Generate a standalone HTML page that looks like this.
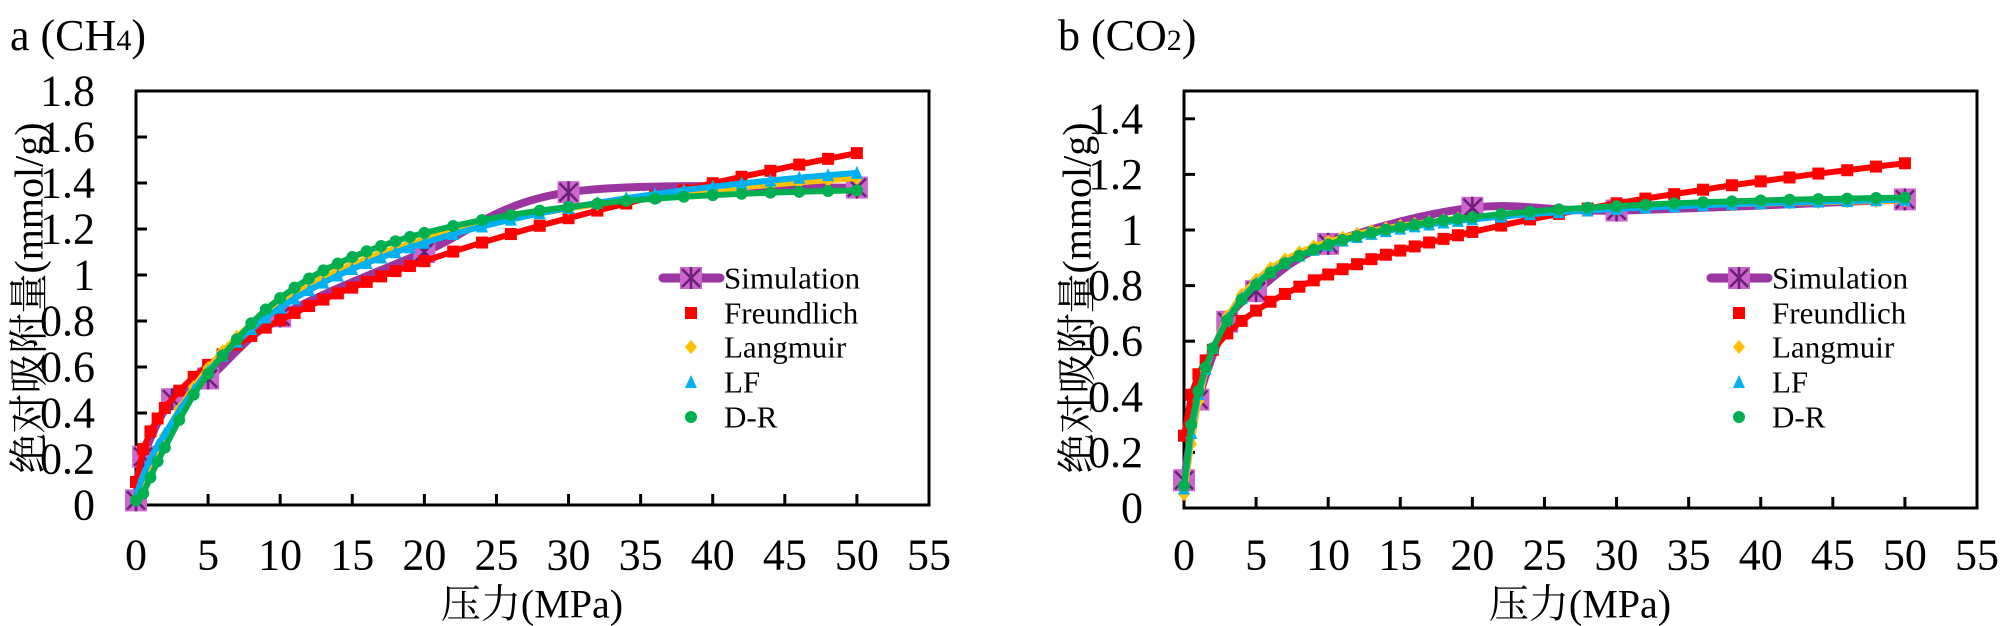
<!DOCTYPE html>
<html><head><meta charset="utf-8"><style>
html,body{margin:0;padding:0;background:#fff;}
svg{display:block;font-family:"Liberation Serif","Times New Roman","Noto Serif CJK SC",serif;}
svg text{font-family:"Liberation Serif","Times New Roman","Noto Serif CJK SC",serif;fill:#000;}
</style></head><body>
<svg id="chart" width="2000" height="626" viewBox="0 0 2000 626" xmlns="http://www.w3.org/2000/svg" font-family="Liberation Serif, Noto Serif CJK SC, serif"></svg>
<script>
const xTicks = [0,5,10,15,20,25,30,35,40,45,50,55];
const yTicksA = [0,0.2,0.4,0.6,0.8,1,1.2,1.4,1.6,1.8];
const yTickLabelsA = ["0","0.2","0.4","0.6","0.8","1","1.2","1.4","1.6","1.8"];
const yTicksB = [0,0.2,0.4,0.6,0.8,1,1.2,1.4];
const yTickLabelsB = ["0","0.2","0.4","0.6","0.8","1","1.2","1.4"];
const seriesNames = ["Simulation","Freundlich","Langmuir","LF","D-R"];
const fitPressure = [0,0.5,1,1.5,2,3,4,5,6,7,8,9,10,11,12,13,14,15,16,17,18,19,20,22,24,26,28,30,32,34,36,38,40,42,44,46,48,50];
// CH4
const simPA = [0,0.5,2.5,5,10,20,30,50];
const simQA = [0.02,0.21,0.46,0.55,0.82,1.10,1.36,1.38];
const freuA = [0.10,0.243,0.32,0.376,0.422,0.497,0.557,0.609,0.655,0.697,0.735,0.771,0.804,0.835,0.865,0.893,0.920,0.945,0.970,0.994,1.017,1.039,1.060,1.102,1.141,1.178,1.214,1.247,1.280,1.311,1.342,1.371,1.399,1.427,1.453,1.480,1.505,1.530];
const langA = [0.03,0.088,0.166,0.238,0.303,0.417,0.513,0.596,0.668,0.731,0.786,0.836,0.880,0.920,0.956,0.989,1.019,1.046,1.071,1.095,1.116,1.136,1.155,1.189,1.218,1.245,1.268,1.289,1.308,1.326,1.341,1.356,1.369,1.381,1.392,1.403,1.412,1.421];
const lfA = [0.04,0.13,0.20,0.26,0.31,0.41,0.50,0.58,0.65,0.71,0.765,0.815,0.858,0.898,0.934,0.967,0.998,1.026,1.052,1.076,1.099,1.120,1.140,1.178,1.211,1.241,1.268,1.292,1.314,1.334,1.352,1.369,1.384,1.398,1.411,1.423,1.434,1.444];
const drA = [0.02,0.05,0.12,0.19,0.25,0.37,0.48,0.57,0.65,0.72,0.79,0.85,0.90,0.945,0.985,1.02,1.05,1.078,1.103,1.126,1.147,1.166,1.183,1.213,1.239,1.261,1.280,1.296,1.310,1.322,1.332,1.340,1.347,1.353,1.358,1.362,1.365,1.368];
// CO2
const simPB = [0,1,3,5,10,20,30,50];
const simQB = [0.10,0.39,0.67,0.78,0.95,1.08,1.07,1.11];
const freuB = [0.26,0.407,0.481,0.531,0.569,0.628,0.673,0.710,0.742,0.770,0.796,0.819,0.840,0.859,0.877,0.895,0.911,0.926,0.941,0.955,0.968,0.981,0.993,1.016,1.038,1.058,1.077,1.096,1.113,1.129,1.145,1.161,1.175,1.189,1.203,1.215,1.228,1.240];
const langB = [0.05,0.230,0.383,0.493,0.575,0.690,0.767,0.821,0.863,0.894,0.920,0.941,0.958,0.973,0.986,0.997,1.006,1.015,1.022,1.029,1.035,1.041,1.045,1.054,1.062,1.068,1.073,1.078,1.082,1.086,1.090,1.093,1.095,1.098,1.100,1.102,1.104,1.106];
const lfB = [0.07,0.27,0.41,0.50,0.575,0.68,0.755,0.808,0.850,0.882,0.908,0.929,0.946,0.962,0.975,0.986,0.996,1.005,1.013,1.020,1.027,1.033,1.038,1.048,1.057,1.064,1.070,1.076,1.081,1.085,1.089,1.093,1.096,1.099,1.102,1.104,1.107,1.109];
const drB = [0.08,0.30,0.42,0.505,0.575,0.675,0.75,0.803,0.846,0.880,0.907,0.929,0.948,0.964,0.978,0.990,1.001,1.010,1.019,1.027,1.034,1.040,1.046,1.057,1.066,1.074,1.080,1.086,1.091,1.096,1.100,1.103,1.106,1.109,1.111,1.113,1.115,1.116];

const NS = "http://www.w3.org/2000/svg";
const svg = document.getElementById('chart');
const FONT = "Liberation Serif, Noto Serif CJK SC, serif";
function mk(tag, attrs, parent){const e=document.createElementNS(NS,tag);for(const k in attrs)e.setAttribute(k,attrs[k]);if(tag==='text')e.setAttribute('font-family',FONT);(parent||svg).appendChild(e);return e;}

function drawPanel(cfg){
  const g = mk('g',{});
  
  
  const L=cfg.left,R=cfg.right,T=91,B=cfg.bottom;
  const xs = p => L + p/55*(R-L);
  const ys = q => B - q/cfg.ymax*(B-T);
  const fr = mk('rect',{x:L,y:T,width:R-L,height:B-T,fill:'none',stroke:'#000','stroke-width':3},g);
  
  
  xTicks.forEach(t=>{
    if(t>0 && t<55){const tk=mk('line',{x1:xs(t),x2:xs(t),y1:B,y2:B-11,stroke:'#000','stroke-width':3},g);
    
    }
    const tl=mk('text',{x:xs(t),y:555,'font-size':44,'text-anchor':'middle','dominant-baseline':'central'},g);
    tl.textContent=String(t);
    
    
  });
  cfg.yticks.forEach((t,i)=>{
    if(t>0){const tk=mk('line',{x1:L,x2:L+11,y1:ys(t),y2:ys(t),stroke:'#000','stroke-width':3},g);
    
    }
    const tl=mk('text',{x:L-41,y:ys(t),'font-size':44,'text-anchor':'end','dominant-baseline':'central'},g);
    tl.textContent=cfg.ylabels[i];
    
    
  });
  const xt=mk('text',{x:L+396,y:604,'font-size':40,'text-anchor':'middle','dominant-baseline':'central'},g);
  xt.textContent='压力(MPa)';
  
  
  const yx=L-107;
  const yt=mk('text',{x:yx,y:298,'font-size':40,'text-anchor':'middle','dominant-baseline':'central',transform:`rotate(-90 ${yx} 298)`},g);
  yt.textContent='绝对吸附量(mmol/g)';
  
  
  const pt=mk('text',{x:L-126,y:50,'font-size':44},g);
  pt.textContent=cfg.title[0];
  const sub=mk('tspan',{'font-size':30},pt); sub.textContent=cfg.title[1];
  const rest=mk('tspan',{},pt); rest.textContent=')';
  
  

  const pts = cfg.simP.map((p,i)=>[xs(p),ys(cfg.simQ[i])]);
  let d=`M${pts[0][0]},${pts[0][1]}`;
  for(let i=0;i<pts.length-1;i++){
    const p0=pts[Math.max(0,i-1)],p1=pts[i],p2=pts[i+1],p3=pts[Math.min(pts.length-1,i+2)];
    const c1=[p1[0]+(p2[0]-p0[0])/6,p1[1]+(p2[1]-p0[1])/6];
    const c2=[p2[0]-(p3[0]-p1[0])/6,p2[1]-(p3[1]-p1[1])/6];
    d+=` C${c1[0]},${c1[1]} ${c2[0]},${c2[1]} ${p2[0]},${p2[1]}`;
  }
  const sl=mk('path',{d:d,fill:'none',stroke:'#9b36a0','stroke-width':8,'stroke-linecap':'round'},g);
  
  
  pts.forEach(p=>{ simMarker(g,p[0],p[1],11); });

  const fits=[[cfg.freu,'#ff0000','square','freundlich'],[cfg.lang,'#ffc000','diamond','langmuir'],[cfg.lf,'#00b0f0','triangle','lf'],[cfg.dr,'#00b050','circle','d-r']];
  fits.forEach(([vals,col,shape,nm])=>{
    const sg=mk('g',{},g);
    
    
    const pl=fitPressure.map((p,i)=>xs(p)+','+ys(vals[i])).join(' ');
    mk('polyline',{points:pl,fill:'none',stroke:col,'stroke-width':6},sg);
    fitPressure.forEach((p,i)=>{ marker(sg,shape,col,xs(p),ys(vals[i]),6); });
  });

  const lg=mk('g',{},g);
  
  
  const lx=L+527, tx=L+588;
  const ly=[278,313,347,382,417];
  mk('line',{x1:lx,x2:lx+57,y1:ly[0],y2:ly[0],stroke:'#9b36a0','stroke-width':9,'stroke-linecap':'round'},lg);
  simMarker(lg,lx+28,ly[0],11);
  const shp=['square','diamond','triangle','circle'],cols=['#ff0000','#ffc000','#00b0f0','#00b050'];
  for(let i=1;i<5;i++) marker(lg,shp[i-1],cols[i-1],lx+28,ly[i],6);
  seriesNames.forEach((n,i)=>{
    const t=mk('text',{x:tx,y:ly[i],'font-size':31,'dominant-baseline':'central'},lg);
    t.textContent=n;
    
    
  });
}
function simMarker(g,x,y,r){
  mk('rect',{x:x-r,y:y-r,width:2*r,height:2*r,fill:'#cc66cc'},g);
  mk('path',{d:`M${x-r+2},${y-r+2}L${x+r-2},${y+r-2}M${x+r-2},${y-r+2}L${x-r+2},${y+r-2}M${x},${y-r}L${x},${y+r}`,stroke:'#6a1f78','stroke-width':2.5},g);
}
function marker(g,shape,col,x,y,r){
  if(shape==='square') mk('rect',{x:x-r,y:y-r,width:2*r,height:2*r,fill:col},g);
  else if(shape==='diamond') mk('polygon',{points:`${x},${y-r-1} ${x+r},${y} ${x},${y+r+1} ${x-r},${y}`,fill:col},g);
  else if(shape==='triangle') mk('polygon',{points:`${x},${y-r-1} ${x+r},${y+r} ${x-r},${y+r}`,fill:col},g);
  else mk('circle',{cx:x,cy:y,r:r,fill:col},g);
}
drawPanel({name:'panel-a-ch4',left:136,right:929,bottom:505,ymax:1.8,yticks:yTicksA,ylabels:yTickLabelsA,title:['a (CH','4'],simP:simPA,simQ:simQA,freu:freuA,lang:langA,lf:lfA,dr:drA});
drawPanel({name:'panel-b-co2',left:1184,right:1977,bottom:508,ymax:1.5,yticks:yTicksB,ylabels:yTickLabelsB,title:['b (CO','2'],simP:simPB,simQ:simQB,freu:freuB,lang:langB,lf:lfB,dr:drB});
</script>
</body></html>
